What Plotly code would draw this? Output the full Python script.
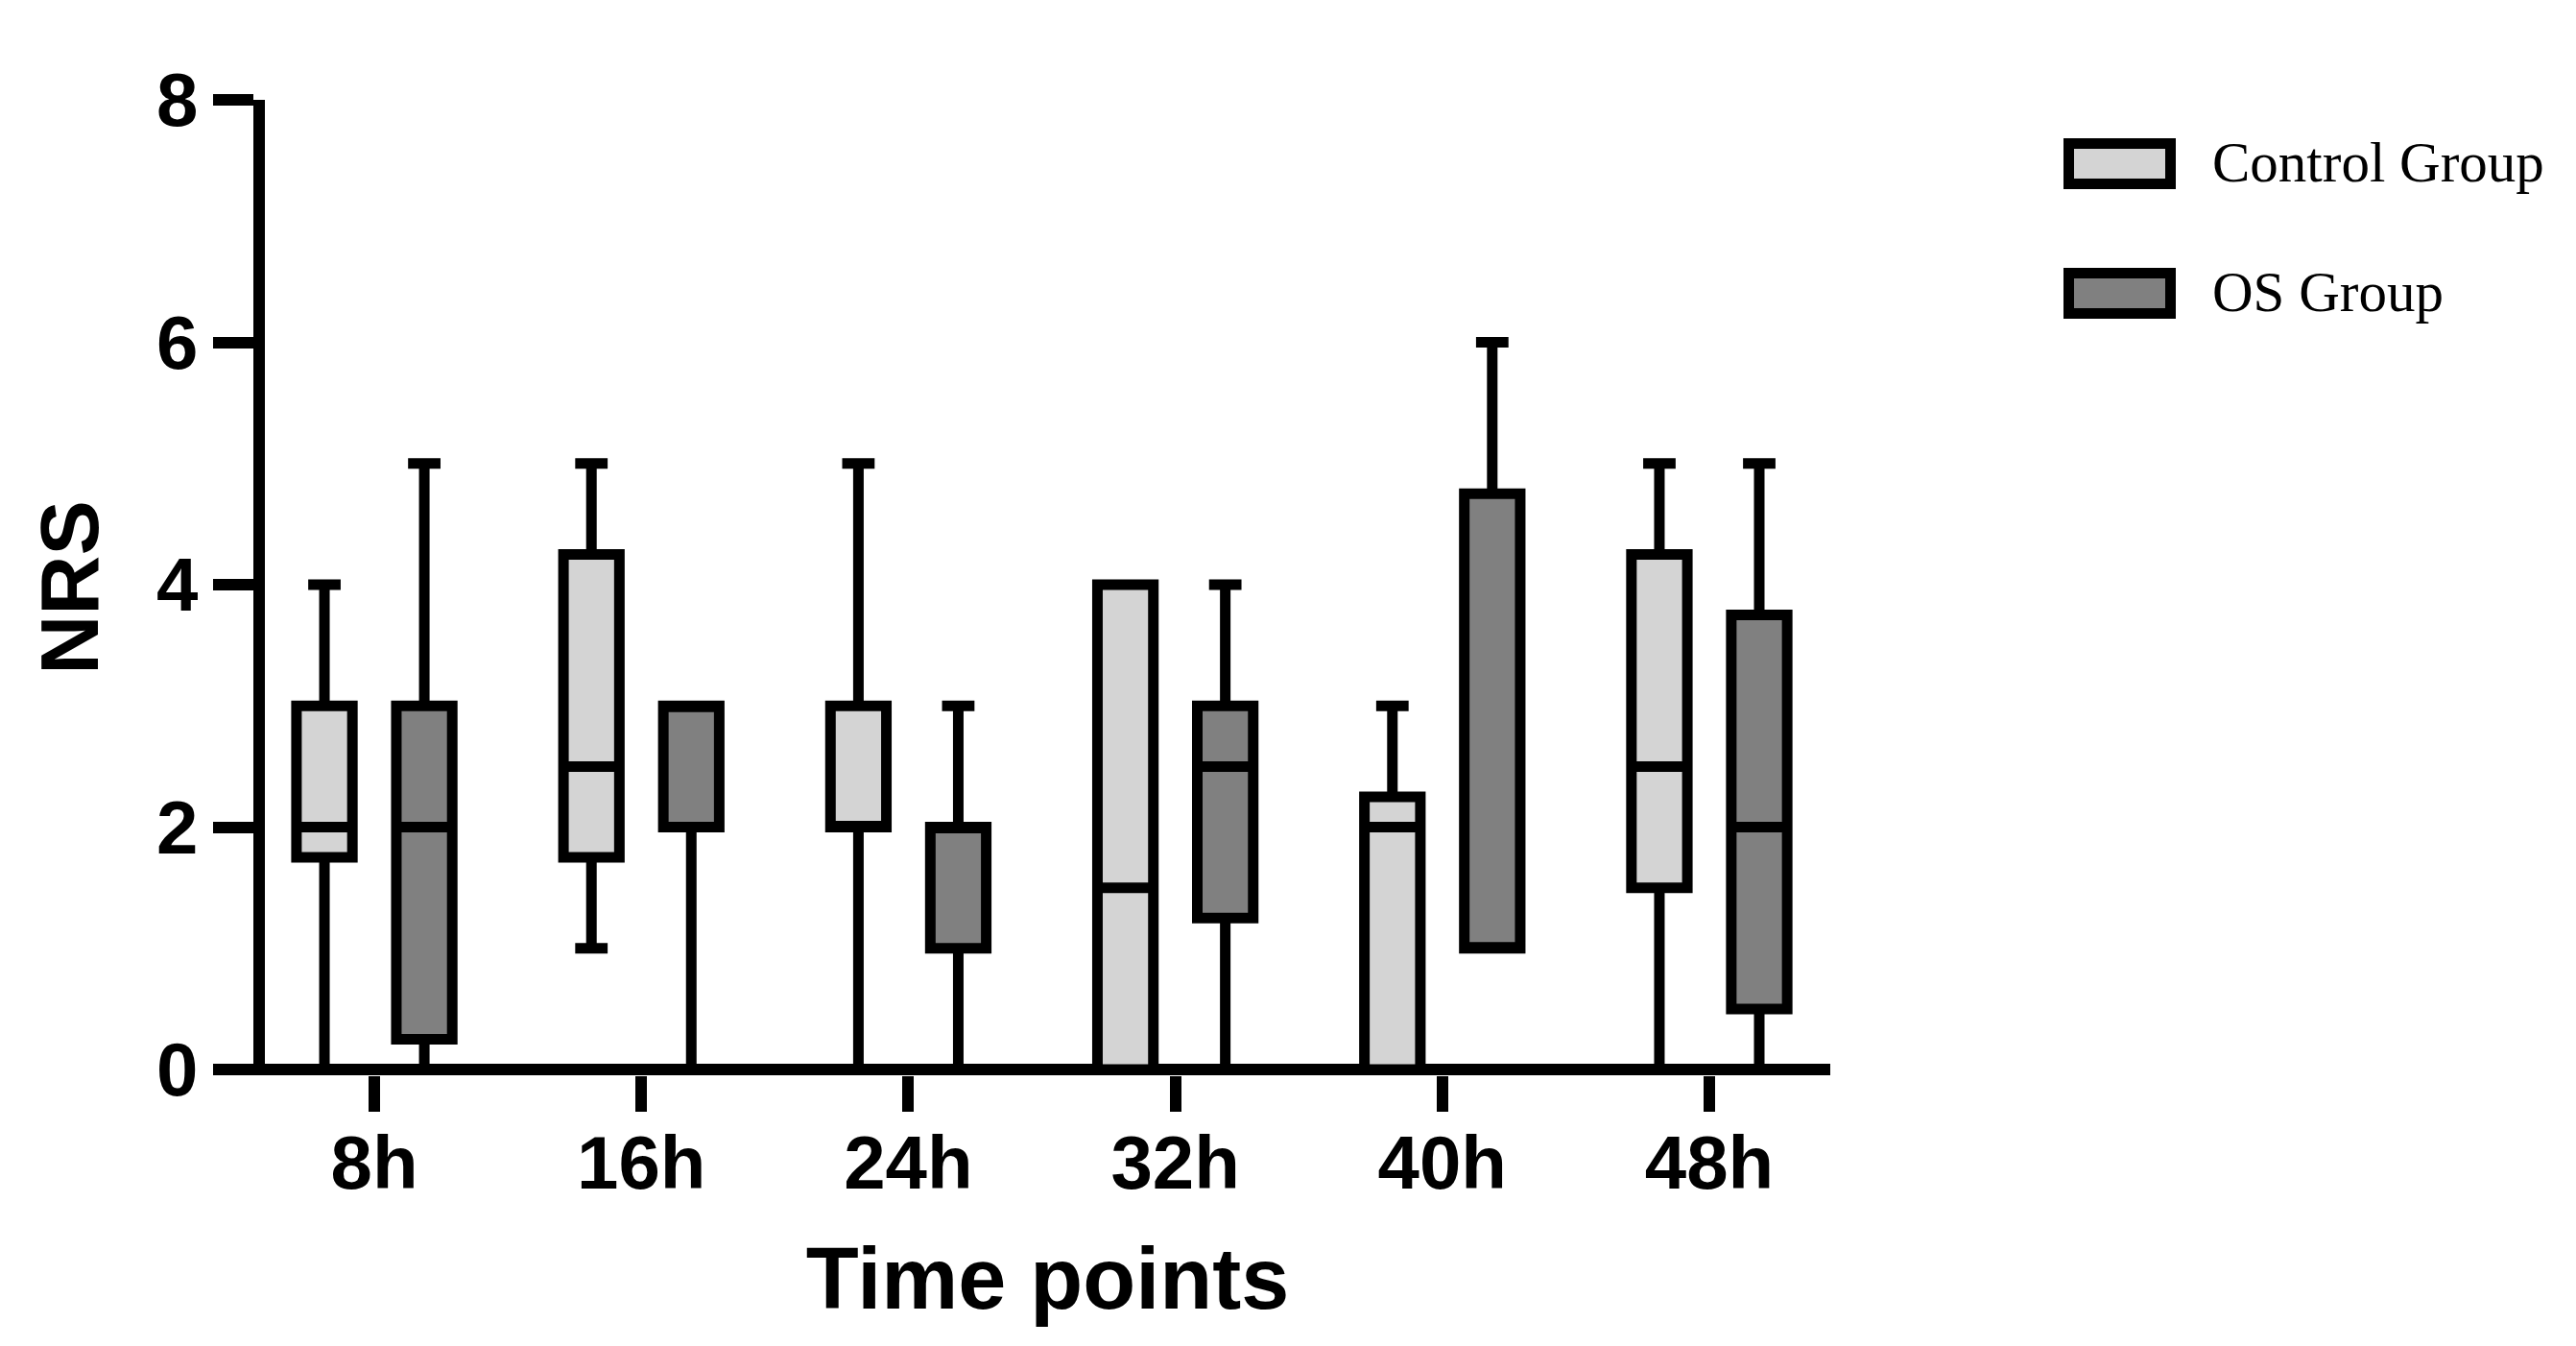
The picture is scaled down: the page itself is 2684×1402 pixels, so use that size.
import plotly.graph_objects as go

# ---- data ----
time_points = ["8h", "16h", "24h", "32h", "40h", "48h"]

control_min = [0, 1, 0, 0, 0, 0]
control_q1 = [1.75, 1.75, 2, 0, 0, 1.5]
control_median = [2, 2.5, 2, 1.5, 2, 2.5]
control_q3 = [3, 4.25, 3, 4, 2.25, 4.25]
control_max = [4, 5, 5, 4, 3, 5]

os_min = [0, 0, 0, 0, 1, 0]
os_q1 = [0.25, 2, 1, 1.25, 1, 0.5]
os_median = [2, 3, 2, 2.5, 1, 2]
os_q3 = [3, 3, 2, 3, 4.75, 3.75]
os_max = [5, 3, 3, 4, 6, 5]

y_ticks = [0, 2, 4, 6, 8]
series_names = ["Control Group", "OS Group"]
series_colors = ["#d4d4d4", "#808080"]

# ---- layout constants (pixels, figure space; page has 8px body margin) ----
W, H = 2676, 1394
L, R, T, B = 268, 777, 96, 282
LW = 11
AXW = 12

fig = go.Figure()
stats = [
    (control_min, control_q1, control_median, control_q3, control_max),
    (os_min, os_q1, os_median, os_q3, os_max),
]
for name, color, (mn, q1, md, q3, mx) in zip(series_names, series_colors, stats):
    fig.add_trace(go.Box(
        x=time_points, q1=q1, median=md, q3=q3,
        lowerfence=mn, upperfence=mx,
        name=name, fillcolor=color,
        line=dict(color="black", width=LW),
        whiskerwidth=0.58, boxpoints=False,
        showlegend=False, hoverinfo="skip",
    ))

pw, ph = W - L - R, H - T - B
y_pad = (AXW / 2) / ((ph - AXW / 2) / 8)

fig.update_layout(
    width=W, height=H,
    margin=dict(l=L, r=R, t=T, b=B, pad=0),
    paper_bgcolor="white", plot_bgcolor="white",
    boxmode="group", boxgap=0.252, boxgroupgap=0.44,
    showlegend=False,
    font=dict(family="Liberation Sans, Arial, sans-serif", color="black"),
)
fig.update_xaxes(
    range=[-0.41, 5.453], showline=False,
    ticks="outside", ticklen=37, tickwidth=AXW, tickcolor="black",
    tickfont=dict(size=78, family="Liberation Sans", weight="bold"),
    ticklabelstandoff=-14,
    title=dict(text="<b>Time points</b>", font=dict(size=90), standoff=46),
    showgrid=False, zeroline=False,
)
fig.update_yaxes(
    range=[-y_pad, 8], tickvals=y_ticks, showline=True, linecolor="black", linewidth=AXW,
    ticks="outside", ticklen=42, tickwidth=AXW, tickcolor="black",
    tickfont=dict(size=78, family="Liberation Sans", weight="bold"),
    title=dict(text="<b>NRS</b>", font=dict(size=86), standoff=37),
    showgrid=False, zeroline=True, zerolinecolor="black", zerolinewidth=AXW,
)

# ---- custom legend ----
def px_x(v):
    return (v - L) / pw
def px_y(v):
    return (H - B - v) / ph

legend_y = [162.5, 297.5]
for name, color, cy in zip(series_names, series_colors, legend_y):
    fig.add_shape(type="rect", xref="paper", yref="paper",
                  x0=px_x(2147.5), x1=px_x(2253.5), y0=px_y(cy - 21), y1=px_y(cy + 21),
                  line=dict(color="black", width=11), fillcolor=color)
    fig.add_annotation(xref="paper", yref="paper", x=px_x(2295), y=px_y(cy - 2),
                       xanchor="left", yanchor="middle", showarrow=False,
                       text=name, font=dict(family="Liberation Serif", size=59, color="black"))

fig.write_html("out.html")
